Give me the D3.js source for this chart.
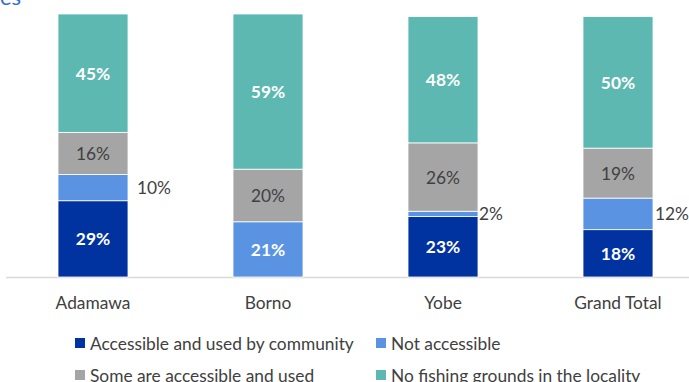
<!DOCTYPE html>
<html>
<head>
<meta charset="utf-8">
<script src="https://cdn.jsdelivr.net/npm/d3@7"></script>
<style>
  html, body { margin: 0; padding: 0; background: #fff; }
  svg { display: block; font-family: Lato, "Open Sans", sans-serif; }
</style>
</head>
<body>
<svg id="chart" width="689" height="382"></svg>
<script>
// Fishing ground access by state (percent of responses)
const categories = ["Adamawa", "Borno", "Yobe", "Grand Total"];
const seriesNames = [
  "Accessible and used by community",
  "Not accessible",
  "Some are accessible and used",
  "No fishing grounds in the locality"
];
const accessibleUsed = [29, 0, 23, 18];
const notAccessible = [10, 21, 2, 12];
const someAccessible = [16, 20, 26, 19];
const noFishing = [45, 59, 48, 50];
const colors = ["#0033a0", "#5b93e3", "#a5a5a5", "#5cb8b0"];
const textColor = "#404040";

const svg = d3.select("#chart");
const W = 689;

// band layout: step 175, bar width 70, first bar at x=58
const step = 175, pIn = 0.6, pOut = 0.3;
const r0 = 58 - pOut * step;
const x = d3.scaleBand().domain(categories)
  .range([r0, r0 + step * (categories.length - pIn + 2 * pOut)])
  .paddingInner(pIn).paddingOuter(pOut);
const y = d3.scaleLinear().domain([0, 100]).range([277, 14]);

// pick a font size so the legend's longest entry spans about 264px
const probe = svg.append("text").attr("font-size", 100).text(seriesNames[0]);
const fs = Math.min(18, 100 * 264 / probe.node().getComputedTextLength());
probe.remove();

const rows = categories.map((c, i) => ({
  cat: c,
  s0: accessibleUsed[i], s1: notAccessible[i], s2: someAccessible[i], s3: noFishing[i]
}));
const stack = d3.stack().keys(["s0", "s1", "s2", "s3"])(rows);

// cropped heading fragment in the top-left corner
svg.append("text").attr("x", 0).attr("y", 5).attr("fill", "#2f6fd6")
  .attr("font-size", 22).text("es");

// baseline
svg.append("line").attr("x1", 6).attr("x2", W).attr("y1", 277.5).attr("y2", 277.5)
  .attr("stroke", "#d9d9d9").attr("stroke-width", 1.3);

const layer = svg.append("g").selectAll("g").data(stack).join("g")
  .attr("fill", (d, i) => colors[i]);

layer.selectAll("rect").data(d => d.filter(p => p[1] - p[0] > 0)).join("rect")
  .attr("x", d => x(d.data.cat))
  .attr("width", x.bandwidth())
  .attr("y", d => y(d[1]))
  .attr("height", d => y(d[0]) - y(d[1]))
  .attr("stroke", "#fff").attr("stroke-width", 0.8);

// segment value labels; small "not accessible" values sit right of the bar
const outsideGap = { "Adamawa": 9, "Yobe": 1, "Grand Total": 2 };
stack.forEach((s, si) => {
  s.forEach(p => {
    const v = p[1] - p[0];
    if (v <= 0) return;
    const cy = (y(p[0]) + y(p[1])) / 2;
    const cx = x(p.data.cat) + x.bandwidth() / 2;
    const outside = si === 1 && v < 15;
    const t = svg.append("text")
      .attr("dominant-baseline", "central")
      .attr("font-size", fs)
      .text(v + "%");
    if (outside) {
      t.attr("x", x(p.data.cat) + x.bandwidth() + outsideGap[p.data.cat]).attr("y", cy).attr("fill", textColor);
    } else if (si === 2) {
      t.attr("x", cx).attr("y", cy).attr("text-anchor", "middle").attr("fill", textColor);
    } else {
      t.attr("x", cx).attr("y", cy).attr("text-anchor", "middle").attr("fill", "#fff").attr("font-weight", "bold");
    }
  });
});

// category axis labels
svg.append("g").selectAll("text").data(categories).join("text")
  .attr("x", d => x(d) + x.bandwidth() / 2)
  .attr("y", 302).attr("dominant-baseline", "central").attr("text-anchor", "middle")
  .attr("font-size", fs).attr("fill", textColor).text(d => d);

// legend, two columns by two rows
const legendPos = [[75, 343], [376, 343], [75, 375], [376, 375]];
const lg = svg.append("g").selectAll("g").data(seriesNames).join("g")
  .attr("transform", (d, i) => `translate(${legendPos[i][0]},${legendPos[i][1]})`);
lg.append("rect").attr("x", 0).attr("y", -5).attr("width", 10).attr("height", 10)
  .attr("fill", (d, i) => colors[i]);
lg.append("text").attr("x", 15).attr("y", 0).attr("dominant-baseline", "central")
  .attr("font-size", fs).attr("fill", textColor).text(d => d);
</script>
</body>
</html>
